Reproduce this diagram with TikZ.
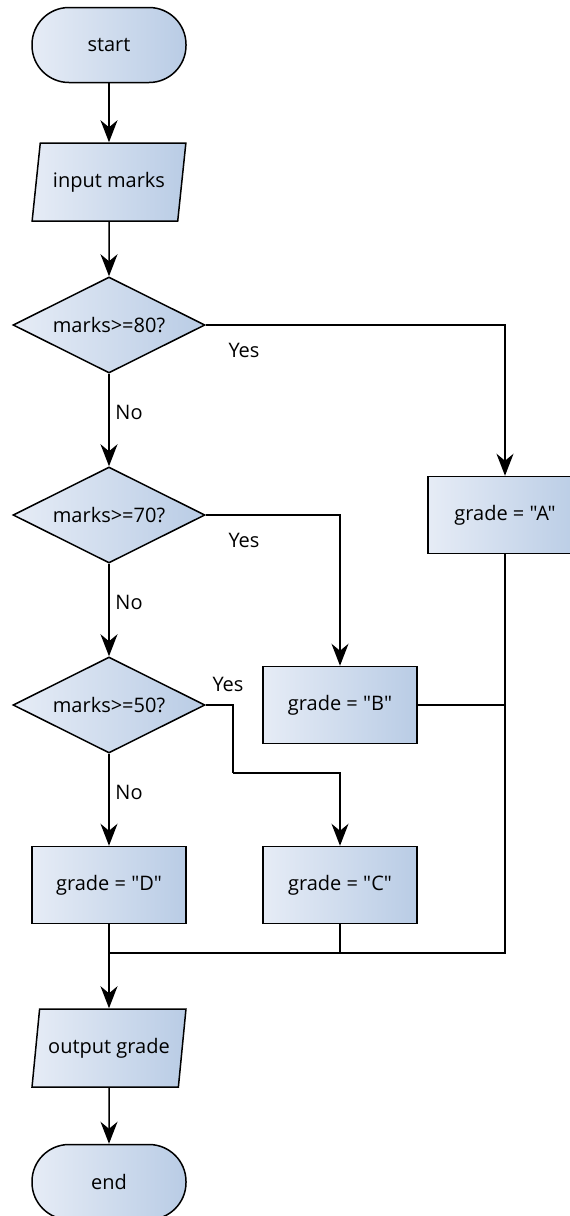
\documentclass[tikz,border=0pt]{standalone}
\usepackage{fontspec}
\setmainfont{Open Sans}[Ligatures=TeXOff]
\usetikzlibrary{shapes.geometric,arrows.meta}

\definecolor{boxlight}{HTML}{E6ECF6}
\definecolor{boxdark}{HTML}{B9CCE5}

\tikzset{
  box/.style={draw, line width=1.5pt, left color=boxlight, right color=boxdark,
    font=\fontsize{20}{24}\selectfont},
  terminal/.style={box, rectangle, rounded corners=37pt, minimum width=154pt, minimum height=75pt},
  process/.style={box, rectangle, minimum width=154pt, minimum height=77pt},
  io/.style={box, trapezium, trapezium left angle=76, trapezium right angle=104,
    trapezium stretches=true, minimum width=154pt, minimum height=78pt, inner xsep=0pt},
  decision/.style={box, diamond, aspect=2, inner sep=0pt, minimum width=192pt, minimum height=96pt},
  flow/.style={line width=1.5pt, -{Stealth[length=22pt, width=17pt, inset=7pt]}},
  joinline/.style={line width=1.5pt},
  answer/.style={font=\fontsize{20}{24}\selectfont},
}

\begin{document}
\begin{tikzpicture}[x=1pt, y=-1pt]
    \useasboundingbox (0,0) rectangle (570,1216);

    % Main column
    \node[terminal] (start) at (109,45) {start};
    \node[io] (input) at (109,182) {input marks};
    \node[decision] (d1) at (109,325) {marks>=80?};
    \node[decision] (d2) at (109,515) {marks>=70?};
    \node[decision] (d3) at (109,705) {marks>=50?};
    \node[process] (gradeD) at (109,885) {grade = "D"};
    \node[io] (output) at (109,1048) {output grade};
    \node[terminal] (end) at (109,1182) {end};

    % Grade boxes on the right
    \node[process] (gradeA) at (505,515) {grade = "A"};
    \node[process] (gradeB) at (340,705) {grade = "B"};
    \node[process] (gradeC) at (340,885) {grade = "C"};

    % Bends and join point
    \coordinate (bend) at (233,773);
    \coordinate (join) at (109,953);

    % Arrows down the main column
    \draw[flow] (start) -- (input);
    \draw[flow] (input) -- (d1);
    \draw[flow] (d1) -- (d2);
    \draw[flow] (d2) -- (d3);
    \draw[flow] (d3) -- (gradeD);
    \draw[flow] (gradeD) -- (output);
    \draw[flow] (output) -- (end);

    % Yes branches
    \draw[flow] (d1.east) -| (gradeA.north);
    \draw[flow] (d2.east) -| (gradeB.north);
    \draw[joinline] (d3.east) -| (bend);
    \draw[flow] (bend) -| (gradeC.north);

    % Lines back to the join
    \draw[joinline] (gradeA.south) |- (join);
    \draw[joinline] (gradeB.east) -- (gradeB.east -| gradeA.south);
    \draw[joinline] (gradeC.south) -- (gradeC.south |- join);

    % Branch labels
    \node[answer] (yes1) at (244,350) {Yes};
    \node[answer] (no1) at (129,412) {No};
    \node[answer] (yes2) at (244,540) {Yes};
    \node[answer] (no2) at (129,602) {No};
    \node[answer] (yes3) at (228,684) {Yes};
    \node[answer] (no3) at (129,792) {No};
\end{tikzpicture}
\end{document}
